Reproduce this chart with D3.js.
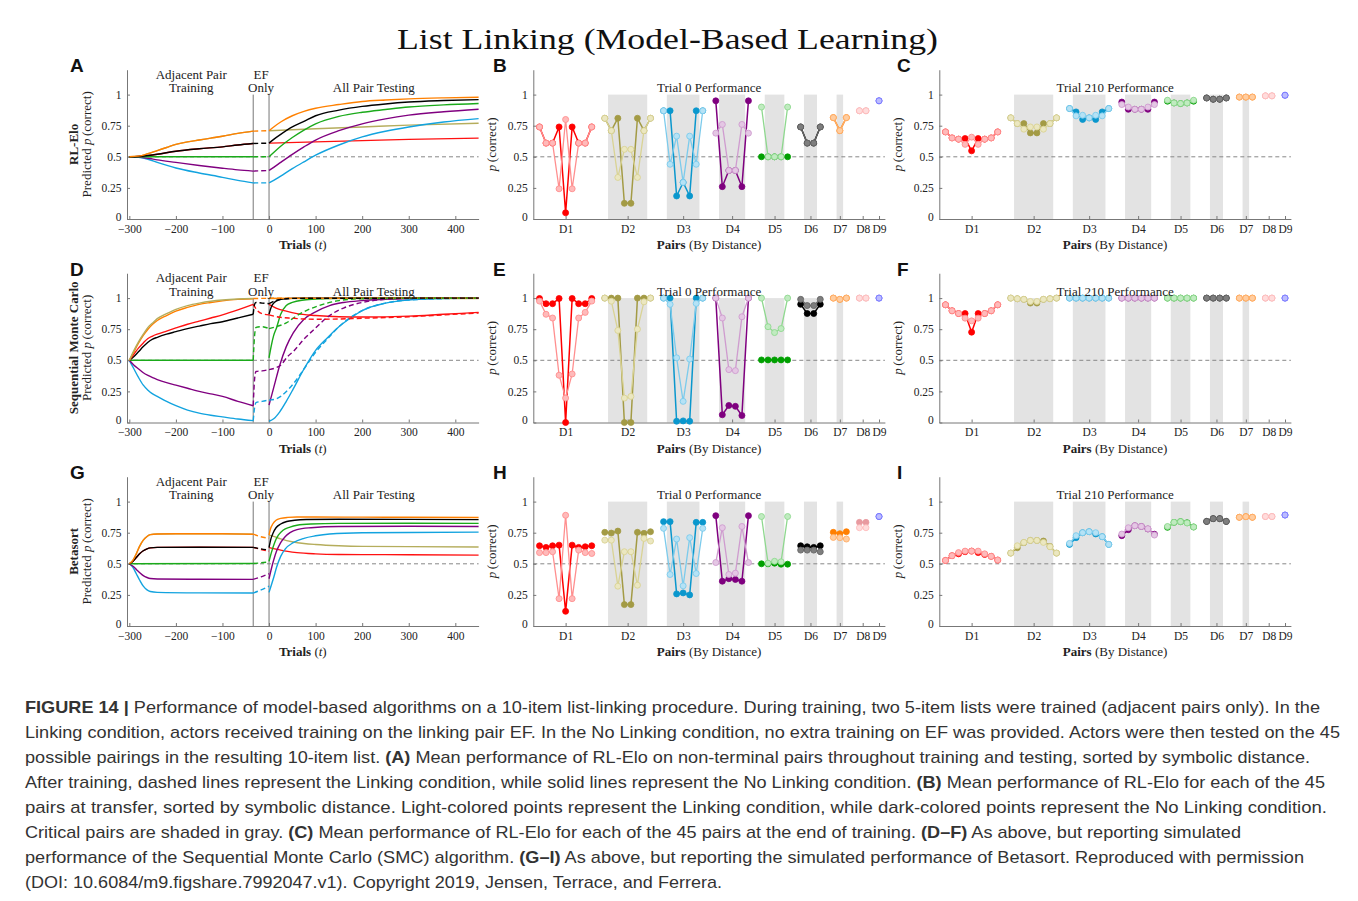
<!DOCTYPE html>
<html><head><meta charset="utf-8">
<script src="https://cdn.jsdelivr.net/npm/d3@7"></script>
<style>
body{margin:0;background:#fff;}
svg text{font-family:"Liberation Serif","Times New Roman",serif;}
</style></head><body>
<svg id="fig" width="1358" height="901"></svg>
<script>
// ---- ticks, categories ----
const trialTicks = [-300, -200, -100, 0, 100, 200, 300, 400];
const pTicks = [0, 0.25, 0.5, 0.75, 1];
const distLabels = ["D1","D2","D3","D4","D5","D6","D7","D8","D9"];
const pairsPerDist = [9, 8, 7, 6, 5, 4, 3, 2, 1];
const criticalPerDist = [0, 6, 5, 4, 3, 2, 1, 0, 0];
const phaseMarks = [-34, 0];
const rowNames = ["RL-Elo", "Sequential Monte Carlo", "Betasort"];
const panelLetters = [["A","B","C"],["D","E","F"],["G","H","I"]];

const lineColor = {orange:"#ff8000", black:"#000000", green:"#1aaa1a", purple:"#800080",
                   cyan:"#12a3df", olive:"#b5ad5c", red:"#ff1111"};
const distDark  = ["#ff0000","#a39b45","#0a97cd","#7f007f","#00a000","#000000","#ff7f00","#e89aa0","#3a3aff"];
const distLight = ["#ff8f8f","#d9d394","#7ccbec","#cf9ccf","#8ed88e","#666666","#ffad66","#ffbcbc","#7c7cff"];
const distLightFill = ["#ffbaba","#ebe7c1","#b5e2f5","#e4c7e4","#c0ebc0","#7e7e7e","#ffcda0","#ffdcdc","#bcbcff"];

// ---- RL-Elo curves (t, p) ----
const eloUpperTrain = [[-300,.5],[-280,.505],[-260,.525],[-240,.55],[-220,.575],[-200,.6],[-175,.62],[-150,.635],[-125,.65],[-100,.665],[-67,.688],[-34,.706]];
const eloMidTrain = [[-300,.5],[-280,.502],[-260,.51],[-240,.52],[-200,.545],[-150,.565],[-100,.58],[-67,.595],[-34,.607]];
const eloTrain = [
  ["olive", eloUpperTrain], ["red", eloMidTrain],
  ["cyan", [[-300,.5],[-280,.495],[-260,.48],[-240,.455],[-200,.41],[-150,.37],[-100,.335],[-67,.31],[-34,.29]]],
  ["purple", [[-300,.5],[-280,.497],[-260,.488],[-240,.475],[-200,.455],[-150,.43],[-100,.408],[-67,.395],[-34,.385]]],
  ["green", [[-300,.5],[-34,.5]]],
  ["black", eloMidTrain], ["orange", eloUpperTrain]
];
const eloEF = [
  ["cyan", [[-34,.29],[0,.29]]], ["purple", [[-34,.385],[0,.39]]], ["green", [[-34,.5],[0,.5]]],
  ["black", [[-34,.607],[0,.61]]], ["orange", [[-34,.706],[0,.71]]]
];
const eloTest = [
  ["olive", [[0,.71],[100,.725],[200,.74],[300,.755],[450,.77]]],
  ["red", [[0,.61],[100,.62],[200,.63],[300,.64],[450,.65]]],
  ["cyan", [[0,.29],[10,.31],[25,.345],[50,.405],[75,.46],[100,.513],[150,.595],[200,.66],[250,.705],[300,.74],[375,.78],[450,.807]]],
  ["purple", [[0,.39],[10,.415],[25,.455],[50,.52],[75,.58],[100,.635],[150,.71],[200,.765],[250,.805],[300,.835],[375,.862],[450,.882]]],
  ["green", [[0,.5],[10,.535],[25,.585],[50,.655],[75,.715],[100,.765],[150,.825],[200,.858],[250,.88],[300,.9],[375,.917],[450,.928]]],
  ["black", [[0,.61],[10,.64],[25,.68],[50,.74],[75,.785],[100,.83],[150,.875],[200,.905],[250,.925],[300,.94],[375,.952],[450,.96]]],
  ["orange", [[0,.71],[10,.74],[25,.78],[50,.83],[75,.865],[100,.89],[150,.92],[200,.945],[250,.957],[300,.966],[375,.974],[450,.979]]]
];
const eloTestDash = [];

// ---- Sequential Monte Carlo curves ----
const smcTrain = [
  ["cyan", [[-300,.5],[-290,.43],[-280,.36],[-270,.3],[-260,.26],[-250,.23],[-240,.21],[-220,.17],[-200,.135],[-175,.1],[-150,.075],[-125,.058],[-100,.045],[-67,.028],[-34,.015]]],
  ["purple", [[-300,.5],[-290,.46],[-280,.43],[-270,.4],[-260,.378],[-250,.36],[-240,.345],[-220,.32],[-200,.3],[-175,.275],[-150,.25],[-125,.23],[-100,.21],[-67,.17],[-34,.135]]],
  ["green", [[-300,.5],[-34,.5]]],
  ["black", [[-300,.5],[-290,.53],[-280,.57],[-270,.61],[-260,.645],[-250,.67],[-240,.685],[-220,.71],[-200,.73],[-175,.755],[-150,.775],[-125,.795],[-100,.81],[-67,.84],[-34,.87]]],
  ["red", [[-300,.5],[-290,.55],[-280,.6],[-270,.64],[-260,.675],[-250,.695],[-240,.71],[-220,.735],[-200,.76],[-175,.79],[-150,.815],[-125,.84],[-100,.865],[-67,.905],[-34,.95]]],
  ["orange", [[-300,.5],[-290,.57],[-280,.64],[-270,.7],[-260,.75],[-250,.79],[-240,.82],[-220,.86],[-200,.895],[-175,.925],[-150,.95],[-125,.965],[-100,.978],[-67,.99],[-34,.995]]],
  ["olive", [[-300,.5],[-290,.58],[-280,.65],[-270,.71],[-260,.765],[-250,.8],[-240,.835],[-220,.875],[-200,.91],[-175,.94],[-150,.96],[-125,.975],[-100,.985],[-67,.993],[-34,.997]]]
];
const smcEF = [
  ["cyan", [[-34,.015],[-31,.12],[-28,.16],[-15,.17],[0,.18]]],
  ["purple", [[-34,.135],[-31,.35],[-28,.41],[-15,.415],[0,.425]]],
  ["green", [[-34,.5],[-31,.7],[-28,.765],[-15,.77],[0,.755]]],
  ["red", [[-34,.95],[-25,.9],[-15,.875],[0,.865]]],
  ["black", [[-34,.87],[-31,.95],[-28,.965],[-15,.96],[0,.955]]],
  ["orange", [[-34,.997],[0,.998]]]
];
const smcTest = [
  ["olive", [[0,.997],[450,.997]]],
  ["cyan", [[0,.01],[10,.03],[23,.086],[37,.17],[52,.27],[75,.43],[100,.58],[125,.68],[150,.77],[175,.84],[200,.9],[250,.96],[300,.985],[350,.995],[450,1]]],
  ["purple", [[0,.14],[5,.21],[10,.28],[23,.46],[37,.61],[52,.72],[75,.83],[100,.89],[130,.94],[160,.965],[200,.98],[250,.99],[300,.997],[450,1]]],
  ["green", [[0,.52],[5,.62],[10,.7],[16,.76],[25,.87],[37,.94],[50,.965],[75,.985],[100,.993],[150,.998],[450,1]]],
  ["red", [[0,.95],[15,.92],[37,.895],[60,.875],[100,.86],[150,.85],[200,.848],[300,.855],[375,.87],[450,.885]]],
  ["black", [[0,.87],[5,.93],[10,.96],[20,.985],[35,.995],[60,1],[450,1]]],
  ["orange", [[0,.998],[450,1]]]
];
const smcTestDash = [
  ["cyan", [[0,.18],[15,.19],[25,.21],[40,.26],[52,.31],[75,.43],[100,.565],[125,.67],[150,.77],[175,.845],[200,.9],[250,.96],[300,.985],[450,1]]],
  ["purple", [[0,.425],[15,.44],[25,.46],[40,.53],[52,.57],[75,.67],[100,.76],[130,.86],[160,.92],[200,.965],[250,.99],[300,.998],[450,1]]],
  ["green", [[0,.755],[15,.77],[37,.8],[60,.86],[80,.9],[100,.93],[125,.96],[150,.98],[200,.995],[450,1]]],
  ["red", [[0,.865],[25,.845],[50,.838],[75,.832],[100,.83],[150,.832],[200,.838],[300,.85],[375,.865],[450,.88]]],
  ["orange", [[0,1],[450,1]]],
  ["black", [[0,.955],[10,.975],[25,.99],[50,.998],[450,1]]]
];

// ---- Betasort curves ----
const betaUpperTrain = [[-300,.5],[-292,.53],[-285,.58],[-278,.64],[-270,.69],[-262,.72],[-255,.735],[-240,.74],[-200,.742],[-150,.742],[-100,.742],[-34,.738]];
const betaMidTrain = [[-300,.5],[-292,.52],[-285,.55],[-278,.58],[-270,.605],[-262,.62],[-255,.628],[-240,.632],[-150,.633],[-34,.632]];
const betaTrain = [
  ["olive", betaUpperTrain], ["red", betaMidTrain],
  ["cyan", [[-300,.5],[-292,.47],[-285,.42],[-278,.37],[-270,.32],[-262,.29],[-255,.277],[-240,.27],[-150,.266],[-34,.265]]],
  ["purple", [[-300,.5],[-292,.48],[-285,.455],[-278,.43],[-270,.405],[-262,.39],[-255,.382],[-240,.378],[-150,.376],[-34,.375]]],
  ["green", [[-300,.5],[-34,.502]]],
  ["black", betaMidTrain], ["orange", betaUpperTrain]
];
const betaEF = [
  ["cyan", [[-34,.265],[-17,.29],[0,.32]]],
  ["purple", [[-34,.375],[-17,.395],[0,.42]]],
  ["green", [[-34,.502],[-17,.508],[0,.515]]],
  ["red", [[-34,.632],[-17,.615],[0,.6]]],
  ["black", [[-34,.632],[-17,.62],[0,.61]]],
  ["orange", [[-34,.738],[-20,.72],[0,.705]]]
];
const betaTest = [
  ["olive", [[0,.73],[10,.72],[25,.7],[52,.675],[75,.663],[100,.655],[150,.645],[200,.64],[300,.638],[450,.635]]],
  ["red", [[0,.63],[10,.622],[25,.61],[40,.6],[60,.59],[100,.58],[150,.575],[200,.574],[300,.573],[450,.57]]],
  ["cyan", [[0,.27],[5,.33],[10,.39],[16,.47],[25,.56],[35,.62],[52,.67],[75,.705],[100,.725],[130,.74],[200,.75],[300,.752],[450,.755]]],
  ["purple", [[0,.38],[5,.46],[10,.53],[16,.6],[25,.67],[35,.72],[45,.75],[60,.775],[90,.79],[150,.8],[300,.802],[450,.8]]],
  ["green", [[0,.52],[5,.59],[13,.68],[20,.73],[30,.77],[45,.795],[60,.81],[90,.82],[150,.825],[300,.826],[450,.825]]],
  ["black", [[0,.63],[4,.7],[9,.75],[15,.79],[25,.82],[38,.84],[55,.85],[80,.856],[150,.858],[300,.857],[450,.855]]],
  ["orange", [[0,.73],[3,.78],[8,.82],[15,.85],[25,.865],[40,.873],[60,.876],[100,.876],[200,.875],[300,.874],[450,.872]]]
];
const betaTestDash = [];

// ---- pair performance (45 pairs, D1..D9) ----
const trial0EloLight = [.74,.61,.61,.243,.80,.243,.61,.61,.74, .81,.71,.334,.56,.56,.334,.71,.81,
  .87,.44,.666,.294,.666,.44,.87, .69,.76,.39,.39,.76,.69, .90,.50,.50,.50,.90, .74,.61,.61,.74, .815,.71,.815, .87,.87, .95];
const trial0EloDark = [.74,.61,.61,.74,.05,.74,.61,.61,.74, .81,.71,.81,.126,.126,.81,.71,.81,
  .87,.87,.185,.294,.185,.87,.87, .95,.26,.39,.39,.26,.95, .5,.5,.5,.5,.5, .74,.61,.61,.74, .815,.71,.815, .87,.87, .95];
const trial210EloLight = [.70,.652,.642,.60,.658,.60,.642,.652,.70, .813,.767,.722,.74,.74,.722,.767,.813,
  .888,.829,.834,.813,.834,.829,.888, .92,.90,.882,.882,.90,.92, .955,.933,.928,.933,.955, .973,.963,.963,.973, .98,.98,.98, .99,.99, .995];
const trial210EloDark = [.70,.652,.642,.647,.548,.647,.642,.652,.70, .813,.767,.767,.692,.692,.767,.767,.813,
  .888,.861,.80,.813,.80,.861,.888, .94,.882,.882,.882,.882,.94, .947,.933,.928,.933,.947, .973,.963,.963,.973, .98,.98,.98, .99,.99, .995];
const trial0SmcLight = [.976,.87,.84,.38,.196,.39,.84,.885,.976, 1,.975,.74,.196,.21,.75,.97,1,
  1,.95,.52,.17,.51,.957,1, 1,.84,.425,.417,.85,1, 1,.77,.723,.755,1, .99,.94,.94,.99, 1,.99,1, 1,1, 1];
const trial0SmcDark = [.997,.955,.955,.997,0,.997,.955,.955,.997, 1,1,1,0,0,1,1,1,
  1,1,.01,.013,.01,1,1, 1,.062,.137,.13,.056,1, .503,.503,.503,.503,.503, .95,.876,.876,.95, 1,.99,1, 1,1, 1];
const trial210SmcLight = [.946,.898,.876,.839,.817,.839,.876,.898,.946, 1,.995,.99,.973,.973,.99,.995,1,
  1,1,1,1,1,1,1, 1,1,1,1,1,1, 1,1,1,1,1, 1,1,1,1, 1,1,1, 1,1, 1];
const trial210SmcDark = [.946,.898,.876,.876,.726,.876,.876,.898,.946, 1,.995,.99,.96,.96,.99,.995,1,
  1,1,1,1,1,1,1, 1,1,1,1,1,1, 1,1,1,1,1, 1,1,1,1, 1,1,1, 1,1, 1];
const trial0BetaLight = [.59,.59,.597,.22,.89,.22,.61,.59,.583, .69,.69,.32,.597,.597,.328,.704,.683,
  .785,.414,.699,.323,.71,.422,.785, .51,.79,.414,.425,.80,.51, .88,.505,.52,.516,.88, .61,.61,.61,.597, .712,.71,.699, .79,.79, .88];
const trial0BetaDark = [.645,.632,.645,.65,.118,.65,.632,.637,.645, .753,.747,.763,.172,.172,.753,.745,.758,
  .839,.839,.258,.266,.25,.833,.833, .887,.36,.38,.374,.36,.887, .5,.5,.505,.497,.497, .645,.637,.632,.645, .753,.742,.758, .833,.833, .88];
const trial210BetaLight = [.527,.565,.59,.602,.602,.602,.58,.56,.53, .586,.645,.672,.688,.688,.672,.637,.586,
  .664,.726,.75,.758,.75,.718,.656, .739,.79,.806,.80,.782,.731, .80,.833,.839,.828,.796, .841,.863,.863,.841, .874,.879,.874, .88,.88, .892];
const trial210BetaDark = [.527,.565,.58,.597,.602,.59,.575,.56,.53, .586,.629,.67,.688,.688,.683,.64,.586,
  .656,.71,.75,.758,.74,.718,.656, .726,.774,.806,.80,.78,.738, .793,.833,.839,.83,.796, .841,.863,.863,.841, .874,.879,.874, .88,.88, .892];

const captionLines = [
  [["FIGURE 14 | ", true], ["Performance of model-based algorithms on a 10-item list-linking procedure. During training, two 5-item lists were trained (adjacent pairs only). In the", false]],
  [["Linking condition, actors received training on the linking pair EF. In the No Linking condition, no extra training on EF was provided. Actors were then tested on the 45", false]],
  [["possible pairings in the resulting 10-item list. ", false], ["(A)", true], [" Mean performance of RL-Elo on non-terminal pairs throughout training and testing, sorted by symbolic distance.", false]],
  [["After training, dashed lines represent the Linking condition, while solid lines represent the No Linking condition. ", false], ["(B)", true], [" Mean performance of RL-Elo for each of the 45", false]],
  [["pairs at transfer, sorted by symbolic distance. Light-colored points represent the Linking condition, while dark-colored points represent the No Linking condition.", false]],
  [["Critical pairs are shaded in gray. ", false], ["(C)", true], [" Mean performance of RL-Elo for each of the 45 pairs at the end of training. ", false], ["(D\u2013F)", true], [" As above, but reporting simulated", false]],
  [["performance of the Sequential Monte Carlo (SMC) algorithm. ", false], ["(G\u2013I)", true], [" As above, but reporting the simulated performance of Betasort. Reproduced with permission", false]],
  [["(DOI: 10.6084/m9.figshare.7992047.v1). Copyright 2019, Jensen, Terrace, and Ferrera.", false]]
];
const captionEnds = [1320, 1340, 1310, 1325, 1327, 1241, 1304, 722];

// ---- layout ----
const svg = d3.select("#fig");
const colX = [127, 533.3, 939.3];
const axW = 351.6;
const rowBase = [219, 422.5, 626];
const unitH = 124.4;

// slot positions for the 45 pairs, one empty slot between distances
const slotStart = [], pairStart = [];
pairsPerDist.reduce((acc, n, d) => { slotStart.push(acc[0]); pairStart.push(acc[1]); return [acc[0] + n + 1, acc[1] + n]; }, [0, 0]);
const distCenter = pairsPerDist.map((n, d) => slotStart[d] + (n - 1) / 2);

function yScale(r) {
  return d3.scaleLinear().domain([0, 1.2]).range([rowBase[r], rowBase[r] - 1.2 * unitH]);
}

function drawAxes(g, x, y, xVals, xFmt) {
  const ax = g.append("g").attr("transform", `translate(0,${y(0)})`)
    .call(d3.axisBottom(x).tickValues(xVals).tickFormat(xFmt).tickSizeInner(-3).tickSizeOuter(0).tickPadding(5.5));
  const ay = g.append("g").attr("transform", `translate(${x.range()[0]},0)`)
    .call(d3.axisLeft(y).tickValues(pTicks).tickFormat(d3.format("~g")).tickSizeInner(-3).tickSizeOuter(0).tickPadding(5.5));
  [ax, ay].forEach(a => {
    a.attr("font-family", null).attr("font-size", null);
    a.selectAll("text").attr("font-size", 11.5).attr("fill", "#222");
    a.selectAll("line,path").attr("stroke", "#777");
  });
  // lift the "0" label a little so it clears the first x label
  ay.selectAll("text").filter(d => d === 0).attr("dy", "0.12em");
}

function halfLine(g, x, y) {
  const [x0, x1] = x.range();
  g.append("line").attr("x1", x0).attr("x2", x1).attr("y1", y(0.5)).attr("y2", y(0.5))
    .attr("stroke", "#888").attr("stroke-width", 1).attr("stroke-dasharray", "4,3");
}

function label(g, x, y, parts, size, anchor) {
  const t = g.append("text").attr("x", x).attr("y", y).attr("font-size", size)
    .attr("text-anchor", anchor || "middle").attr("fill", "#222");
  parts.forEach(p => {
    const s = t.append("tspan").text(p[0]);
    if (p[1] === "b") s.attr("font-weight", "bold");
    if (p[1] === "i") s.attr("font-style", "italic");
  });
  return t;
}

function drawLinePanel(r, train, ef, test, testDash) {
  const g = svg.append("g");
  const x = d3.scaleLinear().domain([-305, 450]).range([colX[0], colX[0] + axW]);
  const y = yScale(r);
  halfLine(g, x, y);
  phaseMarks.forEach(t => g.append("line").attr("x1", x(t)).attr("x2", x(t))
    .attr("y1", y(0)).attr("y2", y(1)).attr("stroke", "#777").attr("stroke-width", 1));
  drawAxes(g, x, y, trialTicks, d => d < 0 ? "\u2212" + (-d) : d);

  const line = d3.line().x(d => x(d[0])).y(d => y(d[1])).curve(d3.curveMonotoneX);
  const draw = (list, dash) => list.forEach(([c, pts]) => {
    g.append("path").attr("d", line(pts)).attr("fill", "none")
      .attr("stroke", lineColor[c]).attr("stroke-width", 1.4)
      .attr("stroke-dasharray", dash ? "5,3" : null);
  });
  draw(train, false);
  draw(ef, true);
  draw(test, false);
  draw(testDash, true);

  const b = rowBase[r];
  const xTrain = x((-300 + phaseMarks[0]) / 2), xEF = x((phaseMarks[0] + phaseMarks[1]) / 2), xTest = x(225);
  label(g, xTrain, b - 140.5, [["Adjacent Pair"]], 13);
  label(g, xTrain, b - 127, [["Training"]], 13);
  label(g, xEF, b - 140.5, [["EF"]], 13);
  label(g, xEF, b - 127, [["Only"]], 13);
  label(g, xTest, b - 127, [["All Pair Testing"]], 13);
  label(g, colX[0] + axW / 2, b + 30, [["Trials", "b"], [" ("], ["t", "i"], [")"]], 13);

  const yc = y(0.6);
  label(g, 0, 0, [[rowNames[r], "b"]], 13).attr("transform", `translate(${colX[0] - 49},${yc}) rotate(-90)`);
  label(g, 0, 0, [["Predicted "], ["p", "i"], ["\u2009(correct)"]], 13).attr("transform", `translate(${colX[0] - 36},${yc}) rotate(-90)`);
}

function drawPairPanel(r, c, light, dark, title) {
  const g = svg.append("g");
  const x = d3.scaleLinear().domain([-0.95, 52.9]).range([colX[c], colX[c] + axW]);
  const y = yScale(r);
  // shaded critical pairs
  criticalPerDist.forEach((n, d) => {
    if (!n) return;
    const s0 = slotStart[d] + (pairsPerDist[d] - n) / 2;
    g.append("rect").attr("x", x(s0 - 0.5)).attr("width", x(s0 + n - 0.5) - x(s0 - 0.5))
      .attr("y", y(1)).attr("height", y(0) - y(1)).attr("fill", "#e3e3e3");
  });
  halfLine(g, x, y);
  drawAxes(g, x, y, distCenter, (d, i) => distLabels[i]);

  const line = d3.line().x(p => x(p[0])).y(p => y(p[1]));
  const series = (vals, stroke, fill, lw, sw) => {
    pairsPerDist.forEach((n, d) => {
      const pts = d3.range(n).map(k => [slotStart[d] + k, vals[pairStart[d] + k]]);
      if (n > 1) g.append("path").attr("d", line(pts)).attr("fill", "none")
        .attr("stroke", stroke[d]).attr("stroke-width", lw);
      g.selectAll(null).data(pts).join("circle")
        .attr("cx", p => x(p[0])).attr("cy", p => y(p[1])).attr("r", 3)
        .attr("fill", fill[d]).attr("stroke", stroke[d]).attr("stroke-width", sw);
    });
  };
  series(dark, distDark, distDark, 1.5, 0.8);
  series(light, distLight, distLightFill, 1.3, 0.9);

  const b = rowBase[r];
  label(g, colX[c] + axW / 2, b - 127, [[title]], 13);
  label(g, colX[c] + axW / 2, b + 30, [["Pairs", "b"], [" (By Distance)"]], 13);
  label(g, 0, 0, [["p", "i"], ["\u2009(correct)"]], 13)
    .attr("transform", `translate(${colX[c] - 37},${y(0.6)}) rotate(-90)`);
}

drawLinePanel(0, eloTrain, eloEF, eloTest, eloTestDash);
drawLinePanel(1, smcTrain, smcEF, smcTest, smcTestDash);
drawLinePanel(2, betaTrain, betaEF, betaTest, betaTestDash);
drawPairPanel(0, 1, trial0EloLight, trial0EloDark, "Trial 0 Performance");
drawPairPanel(0, 2, trial210EloLight, trial210EloDark, "Trial 210 Performance");
drawPairPanel(1, 1, trial0SmcLight, trial0SmcDark, "Trial 0 Performance");
drawPairPanel(1, 2, trial210SmcLight, trial210SmcDark, "Trial 210 Performance");
drawPairPanel(2, 1, trial0BetaLight, trial0BetaDark, "Trial 0 Performance");
drawPairPanel(2, 2, trial210BetaLight, trial210BetaDark, "Trial 210 Performance");

// panel letters
const letterX = [70, 493, 897];
panelLetters.forEach((row, r) => row.forEach((L, c) => {
  svg.append("text").attr("x", letterX[c]).attr("y", rowBase[r] - 147).text(L)
    .attr("font-size", 19).attr("font-weight", "bold").attr("fill", "#111")
    .style("font-family", "'Liberation Sans', Arial, sans-serif");
}));

// title, stretched to the width it has in the figure
svg.append("text").attr("x", 397).attr("y", 49).attr("font-size", 30).attr("fill", "#111")
  .attr("textLength", 541).attr("lengthAdjust", "spacingAndGlyphs")
  .text("List Linking (Model-Based Learning)");

// caption, each line fitted to the width it has in the figure
captionLines.forEach((parts, i) => {
  const t = svg.append("text").attr("x", 25).attr("y", 713 + 25 * i).attr("font-size", 16.6)
    .attr("fill", "#333").style("font-family", "'Liberation Sans', Arial, sans-serif")
    .attr("textLength", captionEnds[i] - 25).attr("lengthAdjust", "spacingAndGlyphs");
  parts.forEach(p => { const s = t.append("tspan").text(p[0]); if (p[1]) s.attr("font-weight", "bold"); });
});
</script></body></html>
